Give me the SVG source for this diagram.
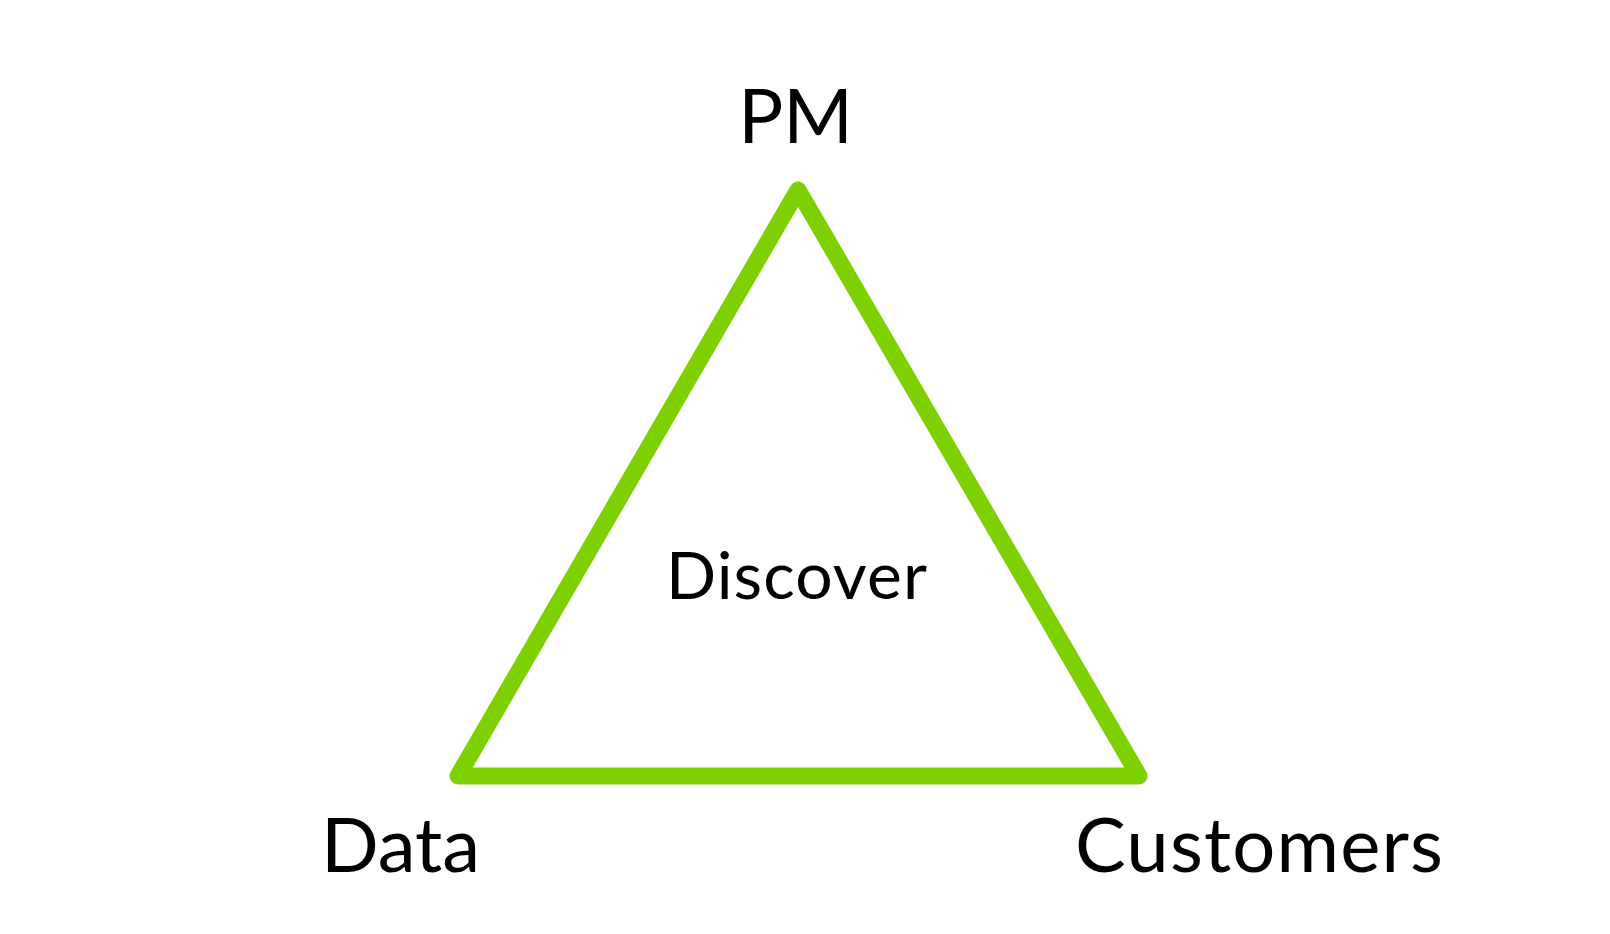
<svg xmlns="http://www.w3.org/2000/svg" width="1610" height="934" viewBox="0 0 1610 934">
<style>
.lbl{font-family:Lato,"Noto Sans",sans-serif;fill:#000;text-anchor:middle}
.tri{fill:none;stroke:#7FD000;stroke-width:17;stroke-linejoin:round;stroke-linecap:round}
</style>
<rect width="1610" height="934" fill="#fff"/>
<g id="connectors">
<polygon class="tri" points="798,190 1139,776 458,776"/>
</g>
<g id="pm"><text class="lbl" x="795.5" y="143" font-size="75">PM</text></g>
<g id="data"><text class="lbl" x="400.5" y="872" font-size="76">Data</text></g>
<g id="customers"><text class="lbl" x="1259" y="872" font-size="76" textLength="368" lengthAdjust="spacing">Customers</text></g>
<g id="discover"><text class="lbl" x="796.5" y="599" font-size="66" textLength="261" lengthAdjust="spacing">Discover</text></g>
</svg>
